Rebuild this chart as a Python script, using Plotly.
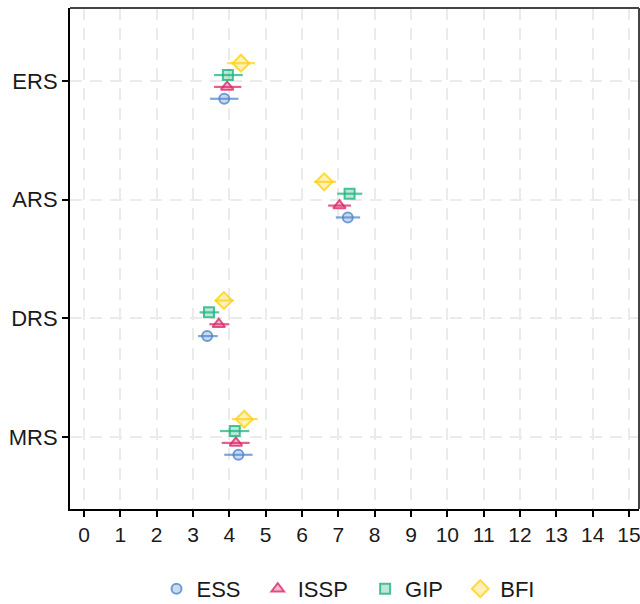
import plotly.graph_objects as go

categories = ["MRS", "DRS", "ARS", "ERS"]
series = ["ESS", "ISSP", "GIP", "BFI"]

# point estimates per series, in category order (MRS, DRS, ARS, ERS)
ess_val = [4.25, 3.39, 7.26, 3.86]
ess_lo = [3.86, 3.14, 6.93, 3.47]
ess_hi = [4.64, 3.68, 7.60, 4.25]

issp_val = [4.18, 3.71, 7.03, 3.94]
issp_lo = [3.79, 3.45, 6.72, 3.58]
issp_hi = [4.56, 4.00, 7.35, 4.33]

gip_val = [4.15, 3.44, 7.31, 3.96]
gip_lo = [3.74, 3.18, 6.97, 3.58]
gip_hi = [4.55, 3.72, 7.66, 4.37]

bfi_val = [4.41, 3.85, 6.61, 4.32]
bfi_lo = [4.07, 3.61, 6.33, 3.94]
bfi_hi = [4.78, 4.12, 6.94, 4.71]

x_ticks = list(range(0, 16))

data = {
    "ESS": (ess_val, ess_lo, ess_hi),
    "ISSP": (issp_val, issp_lo, issp_hi),
    "GIP": (gip_val, gip_lo, gip_hi),
    "BFI": (bfi_val, bfi_lo, bfi_hi),
}
style = {
    "ESS": dict(color="rgba(80,135,205,{a})", symbol="circle", size=10),
    "ISSP": dict(color="rgba(220,40,105,{a})", symbol="triangle-up", size=11),
    "GIP": dict(color="rgba(30,180,125,{a})", symbol="square", size=10),
    "BFI": dict(color="rgba(255,210,20,{a})", symbol="diamond", size=13),
}
offsets = {"ESS": -0.15, "ISSP": -0.05, "GIP": 0.05, "BFI": 0.15}
pad = "\u00a0\u00a0"

fig = go.Figure()
for s in series:
    v, lo, hi = data[s]
    st = style[s]
    ys = [i + 1 + offsets[s] for i in range(len(categories))]
    fig.add_trace(go.Scatter(
        x=v, y=ys, mode="markers", name=s + pad,
        error_x=dict(type="data", symmetric=False,
                     array=[h - c for h, c in zip(hi, v)],
                     arrayminus=[c - l for c, l in zip(v, lo)],
                     color=st["color"].format(a=0.75), thickness=2.2, width=0),
        marker=dict(symbol=st["symbol"], size=st["size"],
                    color=st["color"].format(a=0.3),
                    line=dict(color=st["color"].format(a=0.8), width=2)),
    ))

font = "Liberation Sans, Arial, sans-serif"
grid = dict(showgrid=True, gridcolor="#EBEBEB", griddash="12px,8px", gridwidth=1.5,
            zeroline=False, showline=True, linecolor="black", linewidth=2,
            ticks="outside", ticklen=6, tickwidth=2, tickcolor="black", automargin=False)
fig.update_layout(
    width=640, height=604,
    margin=dict(l=70, r=1, t=8, b=95),
    plot_bgcolor="white", paper_bgcolor="white",
    font=dict(family=font, size=22, color="#1a1a1a"),
    showlegend=True,
    legend=dict(orientation="h", x=0.5, xanchor="center", xref="paper",
                yref="container", y=0.025, yanchor="middle",
                font=dict(size=22), itemwidth=30),
    xaxis=dict(range=[-0.385, 15.275], tickvals=x_ticks, ticktext=[str(t) for t in x_ticks],
               tickfont=dict(size=21), ticklabeloverflow="allow", **grid),
    yaxis=dict(range=[0.393, 4.615], tickvals=[1, 2, 3, 4], ticktext=categories, **grid),
)
# top and right panel borders
fig.add_shape(type="line", xref="paper", yref="paper", x0=0, x1=1, y0=1, y1=1,
              line=dict(color="#444444", width=2))
fig.add_shape(type="line", xref="paper", yref="paper", x0=1, x1=1, y0=0, y1=1,
              line=dict(color="#444444", width=2))

fig.write_html(
    "out.html",
    config={"displayModeBar": False},
    post_script="document.body.style.margin='0';document.body.style.overflow='hidden';",
)
